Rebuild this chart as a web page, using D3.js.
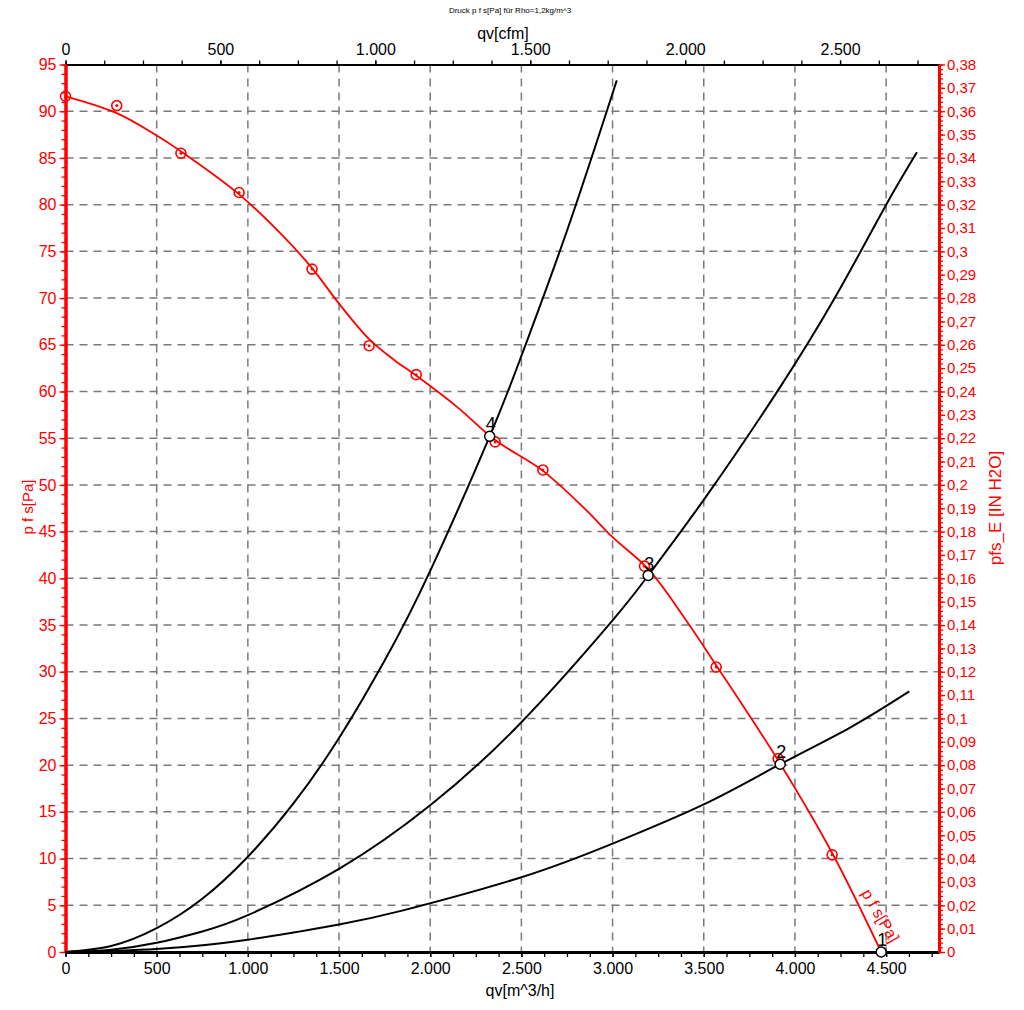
<!DOCTYPE html>
<html>
<head>
<meta charset="utf-8">
<script src="https://cdn.jsdelivr.net/npm/d3@7"></script>
<style>
  html, body { margin: 0; padding: 0; background: #fff; }
  svg { display: block; font-family: "Liberation Sans", Arial, sans-serif; }
</style>
</head>
<body>
<svg id="chart" width="1024" height="1010"></svg>
<script>
// ---------- DATA ----------
const chartTitle = "Druck p f s[Pa] für Rho=1,2kg/m^3";
const topAxisTitle = "qv[cfm]";
const bottomAxisTitle = "qv[m^3/h]";
const leftAxisTitle = "p f s[Pa]";
const rightAxisTitle = "pfs_E [IN H2O]";
const fanCurveLabel = "p f s[Pa]";

const bottomTicks = [0, 500, 1000, 1500, 2000, 2500, 3000, 3500, 4000, 4500];      // m^3/h
const topTicks = [0, 500, 1000, 1500, 2000, 2500];                                // cfm
const leftTicks = [0, 5, 10, 15, 20, 25, 30, 35, 40, 45, 50, 55, 60, 65, 70, 75, 80, 85, 90, 95]; // Pa
const rightTicks = [0, 0.01, 0.02, 0.03, 0.04, 0.05, 0.06, 0.07, 0.08, 0.09, 0.1, 0.11, 0.12, 0.13,
  0.14, 0.15, 0.16, 0.17, 0.18, 0.19, 0.2, 0.21, 0.22, 0.23, 0.24, 0.25, 0.26, 0.27, 0.28, 0.29, 0.3,
  0.31, 0.32, 0.33, 0.34, 0.35, 0.36, 0.37, 0.38];                                // IN H2O

// fan curve (red line)
const fanQ = [0, 281, 500, 633, 952, 1200, 1352, 1500, 1665, 1800, 1923, 2150, 2356, 2618, 2850, 3000, 3195, 3400, 3568, 3908, 4204, 4473];
const fanP = [91.6, 89.8, 87.4, 85.7, 81.1, 76.5, 73.2, 69.4, 65.6, 63.4, 61.7, 58.3, 54.8, 51.5, 47.4, 44.4, 41.0, 35.6, 30.7, 20.5, 10.6, 0];
// measured points (red circled markers)
const markQ = [0, 281, 633, 952, 1352, 1665, 1923, 2356, 2618, 3175, 3568, 3908, 4204];
const markP = [91.6, 90.6, 85.5, 81.3, 73.1, 64.9, 61.8, 54.6, 51.6, 41.3, 30.5, 20.7, 10.4];

// system curves (black)
const sys1Q = [0, 1000, 2000, 3000, 4000, 4473];
const sys1P = [0, 0, 0, 0, 0, 0];
const sys2Q = [0, 500, 1000, 1500, 1846, 2500, 3000, 3500, 3919, 4300, 4627];
const sys2P = [0, 0.33, 1.32, 2.95, 4.43, 8.0, 11.6, 15.8, 20.1, 24.0, 27.9];
const sys3Q = [0, 250, 500, 750, 1000, 1500, 2000, 2500, 3000, 3195, 3500, 3910, 4230, 4495, 4669];
const sys3P = [0, 0.25, 0.98, 2.2, 3.95, 8.9, 15.7, 24.6, 35.5, 40.3, 48.4, 60.2, 70.4, 79.8, 85.6];
const sys4Q = [0, 250, 500, 750, 1000, 1250, 1500, 1750, 2000, 2326, 2500, 2750, 3023];
const sys4P = [0, 0.64, 2.55, 5.7, 10.2, 15.9, 22.9, 31.2, 40.8, 55.2, 63.8, 77.2, 93.3];

// operating points
const opLabels = ["1", "2", "3", "4"];
const opQ = [4473, 3919, 3195, 2326];
const opP = [0, 20.1, 40.3, 55.2];

const M3H_PER_CFM = 1.699;

// ---------- SCALES ----------
const svg = d3.select("#chart");
const X0 = 65.5, X1 = 939, Y0 = 952, Y1 = 64.5;
const qMax = 4790;
const x = d3.scaleLinear().domain([0, qMax]).range([X0, X1]);
const xCfm = d3.scaleLinear().domain([0, qMax / M3H_PER_CFM]).range([X0, X1]);
const y = d3.scaleLinear().domain([0, 95]).range([Y0, Y1]);
const yR = d3.scaleLinear().domain([0, 0.38]).range([Y0, Y1]);

const loc = d3.formatLocale({decimal: ",", thousands: ".", grouping: [3], currency: ["", "€"]});
const fmtThousands = loc.format(",");
const fmtComma = v => String(+v.toFixed(2)).replace(".", ",");

const RED = "#ff0000";
const GRID = "#7a7a7a";

// ---------- GRID ----------
const grid = svg.append("g");
grid.selectAll("line.v").data(bottomTicks.filter(d => d > 0)).join("line")
  .attr("x1", d => x(d)).attr("x2", d => x(d)).attr("y1", Y1).attr("y2", Y0)
  .attr("stroke", GRID).attr("stroke-width", 1.5).attr("stroke-dasharray", "8,6");
grid.selectAll("line.h").data(leftTicks.filter(d => d > 0 && d < 95)).join("line")
  .attr("x1", X0).attr("x2", X1).attr("y1", d => y(d)).attr("y2", d => y(d))
  .attr("stroke", GRID).attr("stroke-width", 1.5).attr("stroke-dasharray", "8,6");

// ---------- AXES ----------
function styleAxis(g, color, width) {
  g.select(".domain").attr("stroke", color).attr("stroke-width", width);
  g.selectAll(".tick line").attr("stroke", color).attr("stroke-width", 1.3);
  g.selectAll(".tick text").attr("fill", color).style("font-family", "'Liberation Sans', Arial, sans-serif");
}

// bottom
const gBottomMinor = svg.append("g").attr("transform", `translate(0,${Y0})`)
  .call(d3.axisBottom(x).tickValues(d3.range(0, qMax, 125)).tickSize(5).tickFormat("").tickSizeOuter(0));
styleAxis(gBottomMinor, "#000", 3);
const gBottom = svg.append("g").attr("transform", `translate(0,${Y0})`)
  .call(d3.axisBottom(x).tickValues(bottomTicks).tickSize(5).tickPadding(6).tickFormat(fmtThousands).tickSizeOuter(0));
styleAxis(gBottom, "#000", 3);
gBottom.selectAll(".tick text").style("font-size", "16px");

// top
const gTopMinor = svg.append("g").attr("transform", `translate(0,${Y1})`)
  .call(d3.axisTop(xCfm).tickValues(d3.range(0, qMax / M3H_PER_CFM, 125)).tickSize(4).tickFormat("").tickSizeOuter(0));
styleAxis(gTopMinor, "#000", 2);
const gTop = svg.append("g").attr("transform", `translate(0,${Y1})`)
  .call(d3.axisTop(xCfm).tickValues(topTicks).tickSize(4).tickPadding(6).tickFormat(fmtThousands).tickSizeOuter(0));
styleAxis(gTop, "#000", 2);
gTop.selectAll(".tick text").style("font-size", "16px");

// left
const gLeftMinor = svg.append("g").attr("transform", `translate(${X0},0)`)
  .call(d3.axisLeft(y).tickValues(d3.range(0, 96, 1)).tickSize(4).tickFormat("").tickSizeOuter(0));
styleAxis(gLeftMinor, RED, 3);
const gLeft = svg.append("g").attr("transform", `translate(${X0},0)`)
  .call(d3.axisLeft(y).tickValues(leftTicks).tickSize(6).tickPadding(3).tickFormat(d => String(d)).tickSizeOuter(0));
styleAxis(gLeft, RED, 3);
gLeft.selectAll(".tick text").style("font-size", "16px");

// right
const gRightMinor = svg.append("g").attr("transform", `translate(${X1},0)`)
  .call(d3.axisRight(yR).tickValues(d3.range(0, 0.3801, 0.002)).tickSize(4).tickFormat("").tickSizeOuter(0));
styleAxis(gRightMinor, RED, 3);
const gRight = svg.append("g").attr("transform", `translate(${X1},0)`)
  .call(d3.axisRight(yR).tickValues(rightTicks).tickSize(6).tickPadding(2).tickFormat(fmtComma).tickSizeOuter(0));
styleAxis(gRight, RED, 3);
gRight.selectAll(".tick text").style("font-size", "15px");

// ---------- TITLES ----------
svg.append("text").attr("x", 510).attr("y", 13).attr("text-anchor", "middle")
  .style("font-size", "8px").attr("fill", "#000").text(chartTitle);
svg.append("text").attr("x", 503).attr("y", 39).attr("text-anchor", "middle")
  .style("font-size", "16px").attr("fill", "#000").text(topAxisTitle);
svg.append("text").attr("x", 520).attr("y", 996).attr("text-anchor", "middle")
  .style("font-size", "16px").attr("fill", "#000").text(bottomAxisTitle);
svg.append("text").attr("transform", "translate(33,507) rotate(-90)").attr("text-anchor", "middle")
  .style("font-size", "15px").attr("fill", RED).text(leftAxisTitle);
svg.append("text").attr("transform", "translate(1001,508) rotate(-90)").attr("text-anchor", "middle")
  .style("font-size", "17px").attr("fill", RED).text(rightAxisTitle);

// ---------- SYSTEM CURVES ----------
const lineGen = d3.line().x(d => x(d[0])).y(d => y(d[1])).curve(d3.curveNatural);
const sysCurves = [[sys1Q, sys1P], [sys2Q, sys2P], [sys3Q, sys3P], [sys4Q, sys4P]];
sysCurves.forEach(([qs, ps]) => {
  svg.append("path").datum(qs.map((q, i) => [q, ps[i]]))
    .attr("d", lineGen).attr("fill", "none").attr("stroke", "#000").attr("stroke-width", 2);
});

// ---------- FAN CURVE ----------
const fanLine = d3.line().x(d => x(d[0])).y(d => y(d[1])).curve(d3.curveCatmullRom.alpha(0.5));
svg.append("path").datum(fanQ.map((q, i) => [q, fanP[i]]))
  .attr("d", fanLine).attr("fill", "none").attr("stroke", RED).attr("stroke-width", 1.8);

const marks = svg.append("g").selectAll("g").data(markQ.map((q, i) => [q, markP[i]])).join("g")
  .attr("transform", d => `translate(${x(d[0])},${y(d[1])})`);
marks.append("circle").attr("r", 5).attr("fill", "none").attr("stroke", RED).attr("stroke-width", 1.6);
marks.append("circle").attr("r", 1.5).attr("fill", RED);

// label along fan curve end
svg.append("text").attr("transform", "translate(861,893) rotate(60)")
  .style("font-size", "16px").attr("fill", RED).text(fanCurveLabel);

// ---------- OPERATING POINTS ----------
const ops = svg.append("g").selectAll("g").data(opLabels.map((l, i) => ({l, q: opQ[i], p: opP[i]}))).join("g")
  .attr("transform", d => `translate(${x(d.q)},${y(d.p)})`);
ops.append("circle").attr("r", 5).attr("fill", "#fff").attr("stroke", "#000").attr("stroke-width", 1.5);
ops.append("text").attr("x", 1).attr("y", -6).attr("text-anchor", "middle")
  .style("font-size", "18px").attr("fill", "#000").text(d => d.l);
</script>
</body>
</html>
